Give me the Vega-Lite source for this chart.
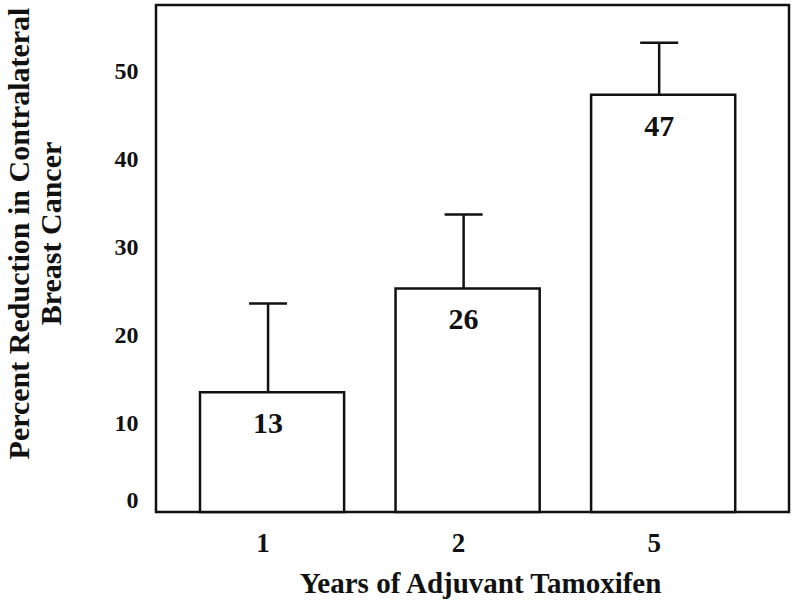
{
  "$schema": "https://vega.github.io/schema/vega-lite/v6.json",
  "width": 633,
  "height": 507,
  "autosize": {"type": "none"},
  "padding": {"left": 156, "top": 5, "right": 3, "bottom": 89},
  "background": "white",
  "config": {
    "view": {"stroke": "#111111", "strokeWidth": 2.5},
    "font": "Liberation Serif"
  },
  "data": {
    "values": [
      {"years": "1", "pct": 13.6, "upper": 23.7, "label": "13"},
      {"years": "2", "pct": 25.4, "upper": 33.8, "label": "26"},
      {"years": "5", "pct": 47.4, "upper": 53.3, "label": "47"}
    ]
  },
  "encoding": {
    "x": {
      "field": "years",
      "type": "ordinal",
      "scale": {"paddingInner": 0.263, "paddingOuter": 0.25, "align": 0.45},
      "axis": {
        "title": "Years of Adjuvant Tamoxifen",
        "titleFont": "Liberation Serif",
        "titleFontSize": 29,
        "titleFontWeight": "bold",
        "titleColor": "#111111",
        "titleX": 324,
        "titleY": 80,
        "titleBaseline": "alphabetic",
        "labelFont": "Liberation Serif",
        "labelFontSize": 27,
        "labelFontWeight": "bold",
        "labelColor": "#111111",
        "labelAngle": 0,
        "labelPadding": 18,
        "labelOffset": -9,
        "ticks": false,
        "domain": false,
        "grid": false
      }
    }
  },
  "layer": [
    {
      "mark": {"type": "rule", "strokeWidth": 2.5, "color": "#111111", "xOffset": -4},
      "encoding": {
        "y": {
          "field": "pct",
          "type": "quantitative",
          "scale": {"domain": [0, 57.6], "nice": false},
          "axis": {
            "title": ["Percent Reduction in Contralateral", "Breast Cancer"],
            "titleFont": "Liberation Serif",
            "titleFontSize": 30,
            "titleFontWeight": "bold",
            "titleColor": "#111111",
            "titleAngle": -90,
            "titleX": -137,
            "titleY": 228,
            "titleAlign": "center",
            "titleBaseline": "middle",
            "titleLineHeight": 32,
            "values": [0, 10, 20, 30, 40, 50],
            "labelFont": "Liberation Serif",
            "labelFontSize": 24,
            "labelFontWeight": "bold",
            "labelColor": "#111111",
            "labelPadding": 18,
            "labelFlush": true,
            "ticks": false,
            "domain": false,
            "grid": false
          }
        },
        "y2": {"field": "upper"}
      }
    },
    {
      "mark": {"type": "tick", "size": 38, "thickness": 2.5, "color": "#111111", "opacity": 1, "xOffset": -4},
      "encoding": {
        "y": {"field": "upper", "type": "quantitative"}
      }
    },
    {
      "mark": {"type": "bar", "fill": "white", "stroke": "#111111", "strokeWidth": 2.5},
      "encoding": {
        "y": {"field": "pct", "type": "quantitative"}
      }
    },
    {
      "mark": {"type": "text", "baseline": "alphabetic", "dy": 41, "dx": -4, "fontSize": 30, "fontWeight": "bold", "font": "Liberation Serif", "color": "#111111"},
      "encoding": {
        "y": {"field": "pct", "type": "quantitative"},
        "text": {"field": "label"}
      }
    }
  ]
}
